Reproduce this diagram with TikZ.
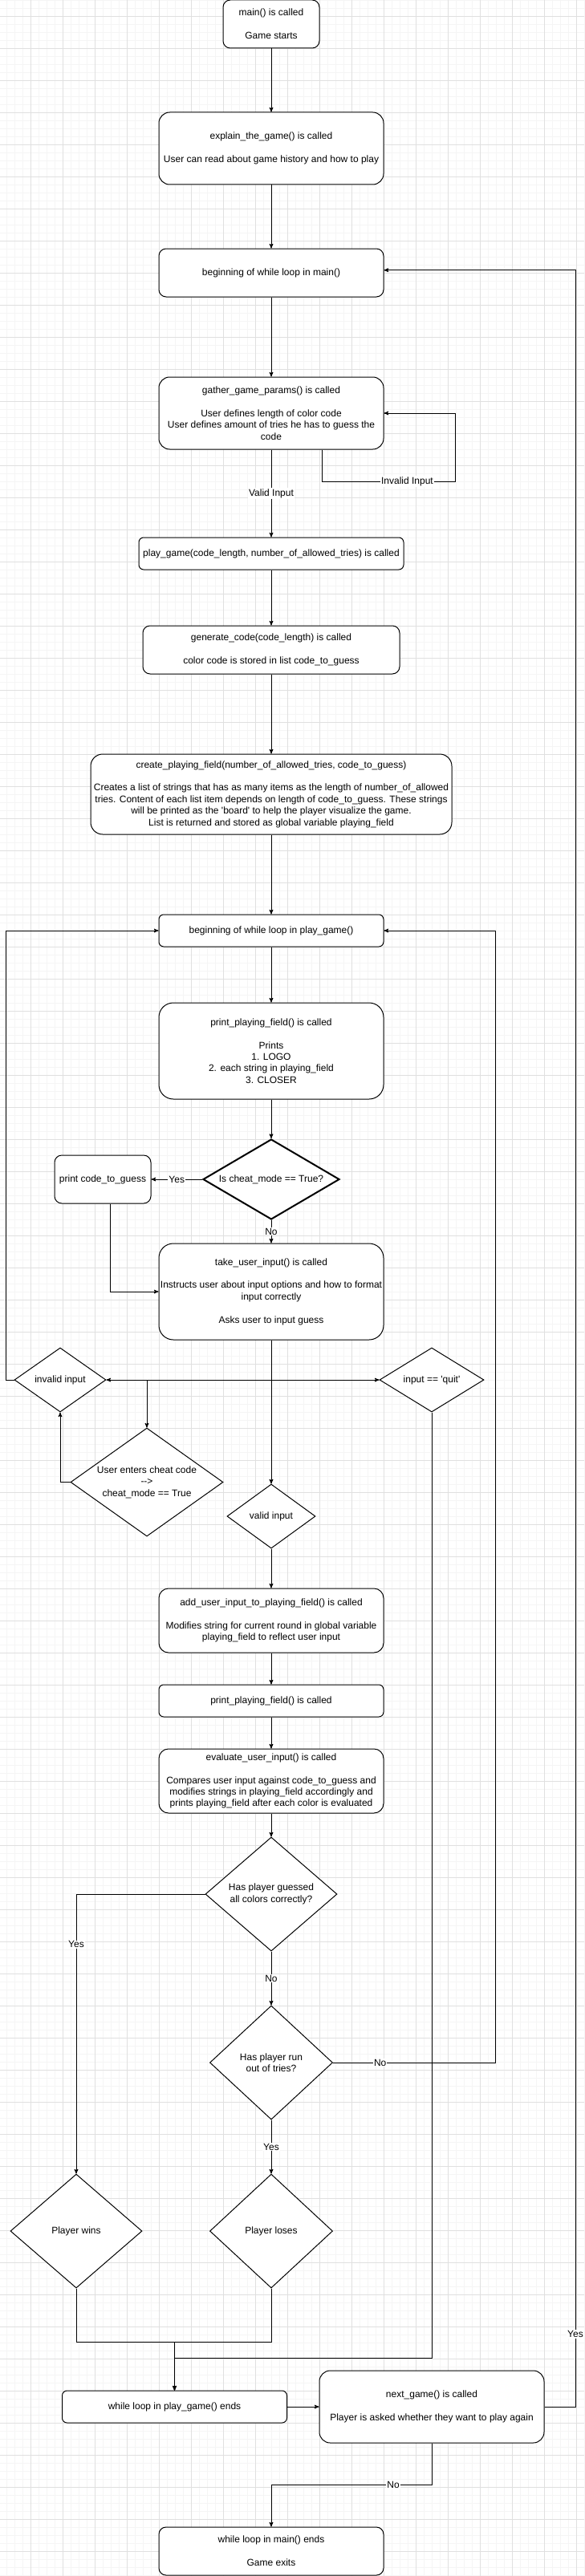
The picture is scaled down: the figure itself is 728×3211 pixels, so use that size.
\documentclass[tikz,border=0pt]{standalone}
\usepackage{fontspec}
\setmainfont{Liberation Sans}
\usepackage{tikz}
\usetikzlibrary{arrows,shapes.geometric}

\newcommand{\squote}{\textquotesingle}

\begin{document}
\begin{tikzpicture}[->,>=stealth',x=1pt,y=-1pt,line width=1pt,
                    font=\fontsize{12}{14.4}\selectfont]
  \tikzstyle{block}=[rectangle,draw=black,fill=white,align=center,inner sep=1pt,
                     minimum height=#1,rounded corners=0.15*#1]
  \tikzstyle{decision}=[diamond,draw=black,fill=white,align=center,inner sep=0pt,
                        shape aspect=1.6]
  \tikzstyle{lbl}=[fill=white,inner sep=1pt]
  \tikzstyle{gridminor}=[-,draw=black!4,line width=0.6pt]
  \tikzstyle{gridmajor}=[-,draw=black!12,line width=0.6pt]

  \useasboundingbox (0,0) rectangle (728,3211);
  \fill[white] (0,0) rectangle (728,3211);
  \foreach \gx in {8,18,...,728} \draw[gridminor] (\gx,0) -- (\gx,3211);
  \foreach \gy in {0,10,...,3210} \draw[gridminor] (0,\gy) -- (728,\gy);
  \foreach \gx in {38,78,...,728} \draw[gridmajor] (\gx,0) -- (\gx,3211);
  \foreach \gy in {20,60,...,3210} \draw[gridmajor] (0,\gy) -- (728,\gy);

  \node[block=60pt,minimum width=120pt] (main) at (338,30) {main() is called\\[14.4pt]Game starts};
  \node[block=90pt,minimum width=280pt,node distance=155pt,below of=main] (explain)
    {explain\_the\_game() is called\\[14.4pt]User can read about game history and how to play};
  \node[block=60pt,minimum width=280pt,node distance=155pt,below of=explain] (beginmain)
    {beginning of while loop in main()};
  \node[block=90pt,minimum width=280pt,node distance=175pt,below of=beginmain] (gather)
    {gather\_game\_params() is called\\[14.4pt]User defines length of color code\\
     User defines amount of tries he has to guess the\\code};
  \node[block=40pt,minimum width=330pt,node distance=175pt,below of=gather] (play)
    {play\_game(code\_length, number\_of\_allowed\_tries) is called};
  \node[block=60pt,minimum width=320pt,node distance=120pt,below of=play] (generate)
    {generate\_code(code\_length) is called\\[14.4pt]color code is stored in list code\_to\_guess};
  \node[block=100pt,minimum width=450pt,node distance=180pt,below of=generate] (create)
    {create\_playing\_field(number\_of\_allowed\_tries, code\_to\_guess)\\[14.4pt]
     Creates a list of strings that has as many items as the length of number\_of\_allowed\\
     tries. Content of each list item depends on length of code\_to\_guess. These strings\\
     will be printed as the \squote board\squote{} to help the player visualize the game.\\
     List is returned and stored as global variable playing\_field};
  \node[block=40pt,minimum width=280pt,node distance=170pt,below of=create] (playloop)
    {beginning of while loop in play\_game()};
  \node[block=120pt,minimum width=280pt,node distance=150pt,below of=playloop] (print)
    {print\_playing\_field() is called\\[14.4pt]Prints\\1. LOGO\\2. each string in playing\_field\\3. CLOSER};
  \node[decision,line width=2pt,minimum width=170pt,minimum height=100pt,node distance=160pt,below of=print] (cheat)
    {Is cheat\_mode == True?};
  \node[block=60pt,minimum width=120pt,node distance=210pt,left of=cheat] (printcode) {print code\_to\_guess};
  \node[block=120pt,minimum width=280pt,node distance=140pt,below of=cheat] (take)
    {take\_user\_input() is called\\[14.4pt]Instructs user about input options and how to format\\
     input correctly\\[14.4pt]Asks user to input guess};

  \node[decision,minimum width=114pt,minimum height=80pt] (invalid) at (75,1720) {invalid input};
  \node[decision,minimum width=130pt,minimum height=80pt] (quit) at (538,1720) {input == \squote quit\squote};
  \node[decision,shape aspect=1.4,minimum width=190pt,minimum height=135pt] (cheatcode) at (183,1847.5)
    {User enters cheat code\\-{}->\\cheat\_mode == True};
  \node[decision,minimum width=110pt,minimum height=80pt,node distance=280pt,below of=take] (valid) {valid input};

  \node[block=80pt,minimum width=280pt,node distance=130pt,below of=valid] (add)
    {add\_user\_input\_to\_playing\_field() is called\\[14.4pt]Modifies string for current round in global variable\\
     playing\_field to reflect user input};
  \node[block=40pt,minimum width=280pt,node distance=100pt,below of=add] (print2) {print\_playing\_field() is called};
  \node[block=80pt,minimum width=280pt,node distance=100pt,below of=print2] (evaluate)
    {evaluate\_user\_input() is called\\[14.4pt]Compares user input against code\_to\_guess and\\
     modifies strings in playing\_field accordingly and\\prints playing\_field after each color is evaluated};
  \node[decision,minimum width=164pt,minimum height=142pt,node distance=141pt,below of=evaluate] (guessed)
    {Has player guessed\\all colors correctly?};
  \node[decision,minimum width=153pt,minimum height=142pt,node distance=210pt,below of=guessed] (runout)
    {Has player run\\out of tries?};
  \node[decision,minimum width=153pt,minimum height=142pt,node distance=210pt,below of=runout] (loses) {Player loses};
  \node[decision,minimum width=164pt,minimum height=142pt,node distance=243pt,left of=loses] (wins) {Player wins};

  \node[block=40pt,minimum width=280pt] (whileend) at (217.5,3000) {while loop in play\_game() ends};
  \node[block=90pt,minimum width=280pt,node distance=320.5pt,right of=whileend] (nextgame)
    {next\_game() is called\\[14.4pt]Player is asked whether they want to play again};
  \node[block=60pt,minimum width=280pt] (final) at (338,3180) {while loop in main() ends\\[14.4pt]Game exits};

  \coordinate (fork) at (338,1720);
  \coordinate (rightrail) at (617.5,2571);
  \coordinate (outerrail) at (717,3000);

  \path (main) edge (explain)
        (explain) edge (beginmain)
        (beginmain) edge (gather)
        (gather) edge node[lbl] {Valid Input} (play)
        (play) edge (generate)
        (generate) edge (create)
        (create) edge (playloop)
        (playloop) edge (print)
        (print) edge (cheat)
        (cheat) edge node[lbl] {Yes} (printcode)
        (cheat) edge node[lbl] {No} (take)
        (take) edge (valid)
        (valid) edge (add)
        (add) edge (print2)
        (print2) edge (evaluate)
        (evaluate) edge (guessed)
        (guessed) edge node[lbl] {No} (runout)
        (runout) edge node[lbl] {Yes} (loses)
        (whileend) edge (nextgame);

  \draw ([xshift=63.5pt]gather.south) |- node[lbl,pos=0.82] {Invalid Input} (567,600) |- (gather.east);
  \draw ([xshift=9.5pt]printcode.south) |- (take.west);
  \draw (take.south) |- (invalid.east);
  \draw (take.south) |- (quit.west);
  \draw (fork) -| (cheatcode.north);
  \draw (cheatcode.west) -| (invalid.south);
  \draw (invalid.west) -- ++(-10,0) |- (playloop.west);
  \draw (quit.south) |- ([yshift=40pt]whileend.north) -- (whileend.north);
  \draw (guessed.west) -| node[lbl,pos=0.59] {Yes} (wins.north);
  \draw (runout.east) -- node[lbl,pos=0.29] {No} (rightrail) |- (playloop.east);
  \draw (wins.south) |- ([yshift=60pt]whileend.north) -- (whileend.north);
  \draw (loses.south) |- ([yshift=60pt]whileend.north) -- (whileend.north);
  \draw (nextgame.east) -- (outerrail) |- node[lbl,pos=0.017] {Yes} ([yshift=3.3pt]beginmain.east);
  \draw (nextgame.south) |- node[lbl,pos=0.62] {No} ([yshift=52.3pt]final.north) -- (final.north);
\end{tikzpicture}
\end{document}
